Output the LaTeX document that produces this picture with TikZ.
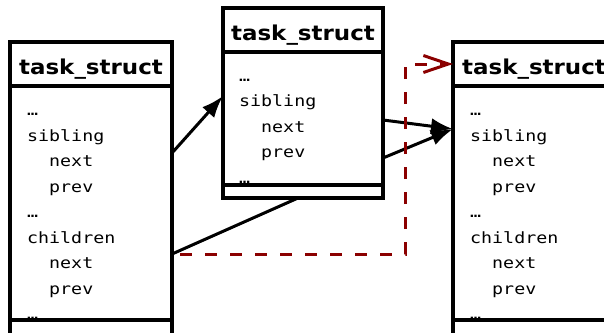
\documentclass[tikz,border=0pt]{standalone}
\usepackage{fontspec}
\setsansfont[FakeStretch=1.12]{DejaVu Sans}
\setmonofont[FakeStretch=1.18]{DejaVu Sans Mono}
\usepackage{tikz}
\usetikzlibrary{arrows.meta,positioning,calc}
\definecolor{linkred}{RGB}{139,0,0}

\begin{document}
\begin{tikzpicture}[
    x=1pt, y=-1pt,
    taskhead/.style={rectangle, draw, line width=3.2pt, outer sep=0pt, minimum height=44pt,
        text height=20pt, text depth=0pt, font=\fontsize{20.5}{24}\sffamily\bfseries},
    taskpart/.style={rectangle, draw, line width=3.2pt, outer sep=0pt},
    fields/.style={anchor=north west, inner sep=0pt, align=left, font=\fontsize{15.5}{25.5}\ttfamily},
    link/.style={line width=3pt, -{Latex[length=22pt, width=16pt]}},
    childlink/.style={line width=3pt, linkred, dash pattern=on 12pt off 13pt, dash phase=17pt,
        -{Straight Barb[length=25pt, width=17pt, line width=3pt]}}
  ]
  \clip (0,0) rectangle (604,332);

  % parent task_struct
  \node[taskhead, minimum width=162pt] (lefthead) at (91,64) {task\_struct};
  \node[taskpart, minimum width=162pt, minimum height=234pt] (leftbody) at (91,203) {};
  \node[taskpart, minimum width=162pt, minimum height=30pt] (leftfoot) at (91,335) {};
  \node[fields] (leftfields) at (27,97.65) {\strut…\\sibling\\\phantom{xx}next\\\phantom{xx}prev\\…\\children\\\phantom{xx}next\\\phantom{xx}prev\\…};

  % sibling task_struct
  \node[taskhead, minimum width=160pt] (midhead) at (303,30) {task\_struct};
  \node[taskpart, minimum width=160pt, minimum height=133pt] (midbody) at (303,118.5) {};
  \node[taskpart, minimum width=160pt, minimum height=13pt] (midfoot) at (303,191.5) {};
  \node[fields] (midfields) at (239,63.15) {\strut…\\sibling\\\phantom{xx}next\\\phantom{xx}prev\\…};

  % child task_struct
  \node[taskhead, minimum width=162pt] (righthead) at (534,64) {task\_struct};
  \node[taskpart, minimum width=162pt, minimum height=234pt] (rightbody) at (534,203) {};
  \node[taskpart, minimum width=162pt, minimum height=30pt] (rightfoot) at (534,335) {};
  \node[fields] (rightfields) at (470,97.65) {\strut…\\sibling\\\phantom{xx}next\\\phantom{xx}prev\\…\\children\\\phantom{xx}next\\\phantom{xx}prev\\…};

  % list links
  \draw[link] ([yshift=-67pt]leftbody.north east) -- ([yshift=-44pt]midbody.north west);
  \draw[link] ([yshift=-68pt]midbody.north east) -- ([yshift=-43pt]rightbody.north west);
  \draw[link] ([yshift=-106pt]midbody.north east) -- ([yshift=-43pt]rightbody.north west);
  \draw[line width=3pt] ([yshift=-168pt]leftbody.north east) -- ([xshift=-5pt]midfoot.south);
  \coordinate (bend) at ([xshift=-48pt]righthead.west);
  \draw[childlink] ([yshift=-168pt]leftbody.north east) -| (bend) -- (righthead.west);
\end{tikzpicture}
\end{document}
